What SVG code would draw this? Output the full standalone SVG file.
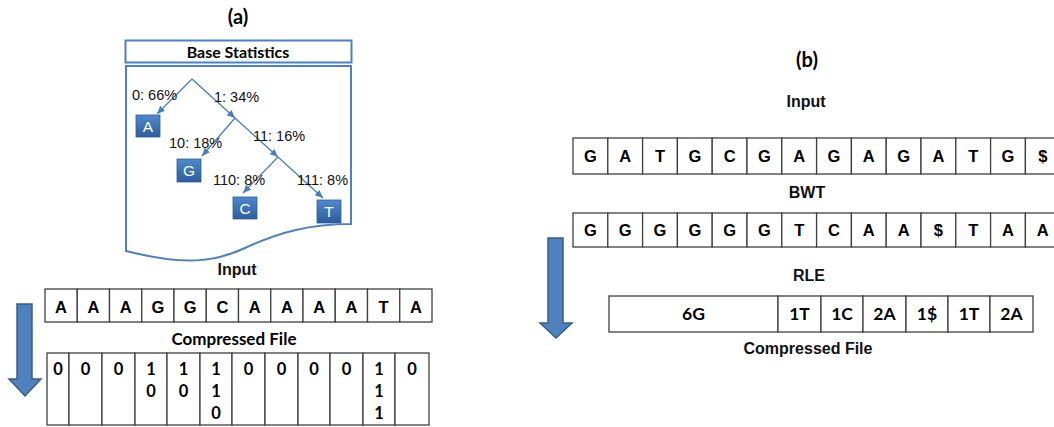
<svg xmlns="http://www.w3.org/2000/svg" width="1054" height="427" viewBox="0 0 1054 427">
  <defs>
    <style>
      .cell{fill:#fff;stroke:#404040;stroke-width:1.3}
      .t{font-family:"Liberation Sans",Arial,sans-serif;font-weight:bold;font-size:16.5px;text-anchor:middle;fill:#000}
      .lbl{font-family:"Liberation Sans",Arial,sans-serif;font-weight:bold;font-size:16px;text-anchor:middle;fill:#111}
      .c{font-family:Lato,"Liberation Sans",sans-serif;font-weight:bold;text-anchor:middle;fill:#000}
      .pct{font-family:"Liberation Sans",Arial,sans-serif;font-size:14.5px;fill:#111}
      .edge{fill:none;stroke:#4A7EBB;stroke-width:1.3;marker-end:url(#ah)}
      .doc{fill:#fff;stroke:#4F81BD;stroke-width:2}
      .sym rect{fill:url(#bg);stroke:#2F5F9E;stroke-width:0.8}
      .sym text{font-family:"Liberation Sans",Arial,sans-serif;font-size:15.5px;text-anchor:middle;fill:#fff}
      .big{fill:#4F81BD;stroke:#385D8A;stroke-width:1.5}
    </style>
    <linearGradient id="bg" x1="0" y1="0" x2="0" y2="1">
      <stop offset="0" stop-color="#5089CC"/>
      <stop offset="1" stop-color="#2D5C9B"/>
    </linearGradient>
    <marker id="ah" markerUnits="userSpaceOnUse" markerWidth="9" markerHeight="8" refX="8" refY="3.5" orient="auto">
      <path d="M0,0 L8,3.5 L0,7 z" fill="#4A7EBB"/>
    </marker>
  </defs>

  <!-- panel (a): Huffman coding -->
  <text class="c" x="238" y="24" font-size="20">(a)</text>

  <g id="base-statistics">
    <rect x="125.5" y="40.5" width="226" height="22" fill="#fff" stroke="#4F81BD" stroke-width="2"/>
    <text class="c" x="238" y="58" font-size="16">Base Statistics</text>
  </g>

  <g id="tree-document">
    <path class="doc" d="M126,66 H351 V224 C310,224 280,232 245,248 C215,262 185,266 126,251 Z"/>
  </g>

  <g id="tree-connectors">
    <line class="edge" x1="192" y1="79" x2="157" y2="114"/>
    <line class="edge" x1="192" y1="79" x2="235" y2="118"/>
    <line class="edge" x1="235" y1="118" x2="202" y2="156"/>
    <line class="edge" x1="235" y1="118" x2="278" y2="157"/>
    <line class="edge" x1="278" y1="157" x2="243" y2="193"/>
    <line class="edge" x1="278" y1="157" x2="323" y2="198"/>
  </g>

  <g id="tree-labels">
    <text class="pct" x="132" y="100">0: 66%</text>
    <text class="pct" x="214" y="102">1: 34%</text>
    <text class="pct" x="169" y="148">10: 18%</text>
    <text class="pct" x="253" y="141">11: 16%</text>
    <text class="pct" x="213" y="185">110: 8%</text>
    <text class="pct" x="297" y="185">111: 8%</text>
  </g>

  <g id="node-A" class="sym"><rect x="136" y="115" width="24" height="22"/><text x="148" y="131.5">A</text></g>
  <g id="node-G" class="sym"><rect x="177" y="159" width="24" height="23"/><text x="189" y="176">G</text></g>
  <g id="node-C" class="sym"><rect x="233" y="197" width="24" height="22"/><text x="245" y="213.5">C</text></g>
  <g id="node-T" class="sym"><rect x="317" y="200" width="24" height="23"/><text x="329" y="217">T</text></g>

  <g id="input-a">
    <text class="lbl" x="237" y="275">Input</text>
    <g>
      <rect class="cell" x="45" y="289" width="32.25" height="33"/>
      <rect class="cell" x="77.25" y="289" width="32.25" height="33"/>
      <rect class="cell" x="109.5" y="289" width="32.25" height="33"/>
      <rect class="cell" x="141.75" y="289" width="32.25" height="33"/>
      <rect class="cell" x="174" y="289" width="32.25" height="33"/>
      <rect class="cell" x="206.25" y="289" width="32.25" height="33"/>
      <rect class="cell" x="238.5" y="289" width="32.25" height="33"/>
      <rect class="cell" x="270.75" y="289" width="32.25" height="33"/>
      <rect class="cell" x="303" y="289" width="32.25" height="33"/>
      <rect class="cell" x="335.25" y="289" width="32.25" height="33"/>
      <rect class="cell" x="367.5" y="289" width="32.25" height="33"/>
      <rect class="cell" x="399.75" y="289" width="32.25" height="33"/>
    </g>
    <g class="t">
      <text x="61" y="313">A</text>
      <text x="93.4" y="313">A</text>
      <text x="125.6" y="313">A</text>
      <text x="157.9" y="313">G</text>
      <text x="190.1" y="313">G</text>
      <text x="222.4" y="313">C</text>
      <text x="254.6" y="313">A</text>
      <text x="286.9" y="313">A</text>
      <text x="319.1" y="313">A</text>
      <text x="351.4" y="313">A</text>
      <text x="383.6" y="313">T</text>
      <text x="415.9" y="313">A</text>
    </g>
  </g>

  <g id="compressed-a">
    <text class="c" x="234" y="345" font-size="17">Compressed File</text>
    <g>
      <rect class="cell" x="47" y="353" width="22" height="72"/>
      <rect class="cell" x="69" y="353" width="33" height="72"/>
      <rect class="cell" x="102" y="353" width="33" height="72"/>
      <rect class="cell" x="135" y="353" width="32" height="72"/>
      <rect class="cell" x="167" y="353" width="33" height="72"/>
      <rect class="cell" x="200" y="353" width="32" height="72"/>
      <rect class="cell" x="232" y="353" width="33" height="72"/>
      <rect class="cell" x="265" y="353" width="33" height="72"/>
      <rect class="cell" x="298" y="353" width="32" height="72"/>
      <rect class="cell" x="330" y="353" width="33" height="72"/>
      <rect class="cell" x="363" y="353" width="32" height="72"/>
      <rect class="cell" x="395" y="353" width="34" height="72"/>
    </g>
    <g class="c" font-size="16.5">
      <text x="58" y="375">0</text>
      <text x="85.5" y="375">0</text>
      <text x="118.5" y="375">0</text>
      <text x="151" y="375">1</text><text x="151" y="397">0</text>
      <text x="183.5" y="375">1</text><text x="183.5" y="397">0</text>
      <text x="216" y="375">1</text><text x="216" y="397">1</text><text x="216" y="419">0</text>
      <text x="248.5" y="375">0</text>
      <text x="281.5" y="375">0</text>
      <text x="314" y="375">0</text>
      <text x="346.5" y="375">0</text>
      <text x="379" y="375">1</text><text x="379" y="397">1</text><text x="379" y="419">1</text>
      <text x="412" y="375">0</text>
    </g>
  </g>

  <g id="flow-arrow-a">
    <path class="big" d="M17,304 H32 V379 H41 L25,396 L9,379 H17 Z"/>
  </g>

  <!-- panel (b): BWT + run-length encoding -->
  <text class="c" x="807" y="67" font-size="20">(b)</text>

  <g id="input-b">
    <text class="lbl" x="806" y="107">Input</text>
    <g>
      <rect class="cell" x="573" y="138" width="34.8" height="36"/>
      <rect class="cell" x="607.8" y="138" width="34.8" height="36"/>
      <rect class="cell" x="642.6" y="138" width="34.8" height="36"/>
      <rect class="cell" x="677.4" y="138" width="34.8" height="36"/>
      <rect class="cell" x="712.2" y="138" width="34.8" height="36"/>
      <rect class="cell" x="747" y="138" width="34.8" height="36"/>
      <rect class="cell" x="781.8" y="138" width="34.8" height="36"/>
      <rect class="cell" x="816.6" y="138" width="34.8" height="36"/>
      <rect class="cell" x="851.4" y="138" width="34.8" height="36"/>
      <rect class="cell" x="886.2" y="138" width="34.8" height="36"/>
      <rect class="cell" x="921" y="138" width="34.8" height="36"/>
      <rect class="cell" x="955.8" y="138" width="34.8" height="36"/>
      <rect class="cell" x="990.6" y="138" width="34.8" height="36"/>
      <rect class="cell" x="1025.4" y="138" width="34.8" height="36"/>
    </g>
    <g class="t">
      <text x="590.4" y="162">G</text>
      <text x="625.2" y="162">A</text>
      <text x="660" y="162">T</text>
      <text x="694.8" y="162">G</text>
      <text x="729.6" y="162">C</text>
      <text x="764.4" y="162">G</text>
      <text x="799.2" y="162">A</text>
      <text x="834" y="162">G</text>
      <text x="868.8" y="162">A</text>
      <text x="903.6" y="162">G</text>
      <text x="938.4" y="162">A</text>
      <text x="973.2" y="162">T</text>
      <text x="1008" y="162">G</text>
      <text x="1042.8" y="162">$</text>
    </g>
  </g>

  <g id="bwt-b">
    <text class="lbl" x="807" y="198">BWT</text>
    <g>
      <rect class="cell" x="573" y="213" width="34.8" height="34"/>
      <rect class="cell" x="607.8" y="213" width="34.8" height="34"/>
      <rect class="cell" x="642.6" y="213" width="34.8" height="34"/>
      <rect class="cell" x="677.4" y="213" width="34.8" height="34"/>
      <rect class="cell" x="712.2" y="213" width="34.8" height="34"/>
      <rect class="cell" x="747" y="213" width="34.8" height="34"/>
      <rect class="cell" x="781.8" y="213" width="34.8" height="34"/>
      <rect class="cell" x="816.6" y="213" width="34.8" height="34"/>
      <rect class="cell" x="851.4" y="213" width="34.8" height="34"/>
      <rect class="cell" x="886.2" y="213" width="34.8" height="34"/>
      <rect class="cell" x="921" y="213" width="34.8" height="34"/>
      <rect class="cell" x="955.8" y="213" width="34.8" height="34"/>
      <rect class="cell" x="990.6" y="213" width="34.8" height="34"/>
      <rect class="cell" x="1025.4" y="213" width="34.8" height="34"/>
    </g>
    <g class="t">
      <text x="590.4" y="236">G</text>
      <text x="625.2" y="236">G</text>
      <text x="660" y="236">G</text>
      <text x="694.8" y="236">G</text>
      <text x="729.6" y="236">G</text>
      <text x="764.4" y="236">G</text>
      <text x="799.2" y="236">T</text>
      <text x="834" y="236">C</text>
      <text x="868.8" y="236">A</text>
      <text x="903.6" y="236">A</text>
      <text x="938.4" y="236">$</text>
      <text x="973.2" y="236">T</text>
      <text x="1008" y="236">A</text>
      <text x="1042.8" y="236">A</text>
    </g>
  </g>

  <g id="rle-b">
    <text class="lbl" x="809" y="281">RLE</text>
    <g>
      <rect class="cell" x="609" y="296" width="169" height="36"/>
      <rect class="cell" x="778" y="296" width="43" height="36"/>
      <rect class="cell" x="821" y="296" width="42" height="36"/>
      <rect class="cell" x="863" y="296" width="43" height="36"/>
      <rect class="cell" x="906" y="296" width="42" height="36"/>
      <rect class="cell" x="948" y="296" width="42" height="36"/>
      <rect class="cell" x="990" y="296" width="43" height="36"/>
    </g>
    <g class="c" font-size="17.5">
      <text x="693.5" y="320">6G</text>
      <text x="799.5" y="320">1T</text>
      <text x="842" y="320">1C</text>
      <text x="884.5" y="320">2A</text>
      <text x="927" y="320">1$</text>
      <text x="969" y="320">1T</text>
      <text x="1011.5" y="320">2A</text>
    </g>
  </g>

  <g id="compressed-b">
    <text class="lbl" x="808" y="354">Compressed File</text>
  </g>

  <g id="flow-arrow-b">
    <path class="big" d="M548,238 H563 V323 H572 L556,338 L540,323 H548 Z"/>
  </g>
</svg>
